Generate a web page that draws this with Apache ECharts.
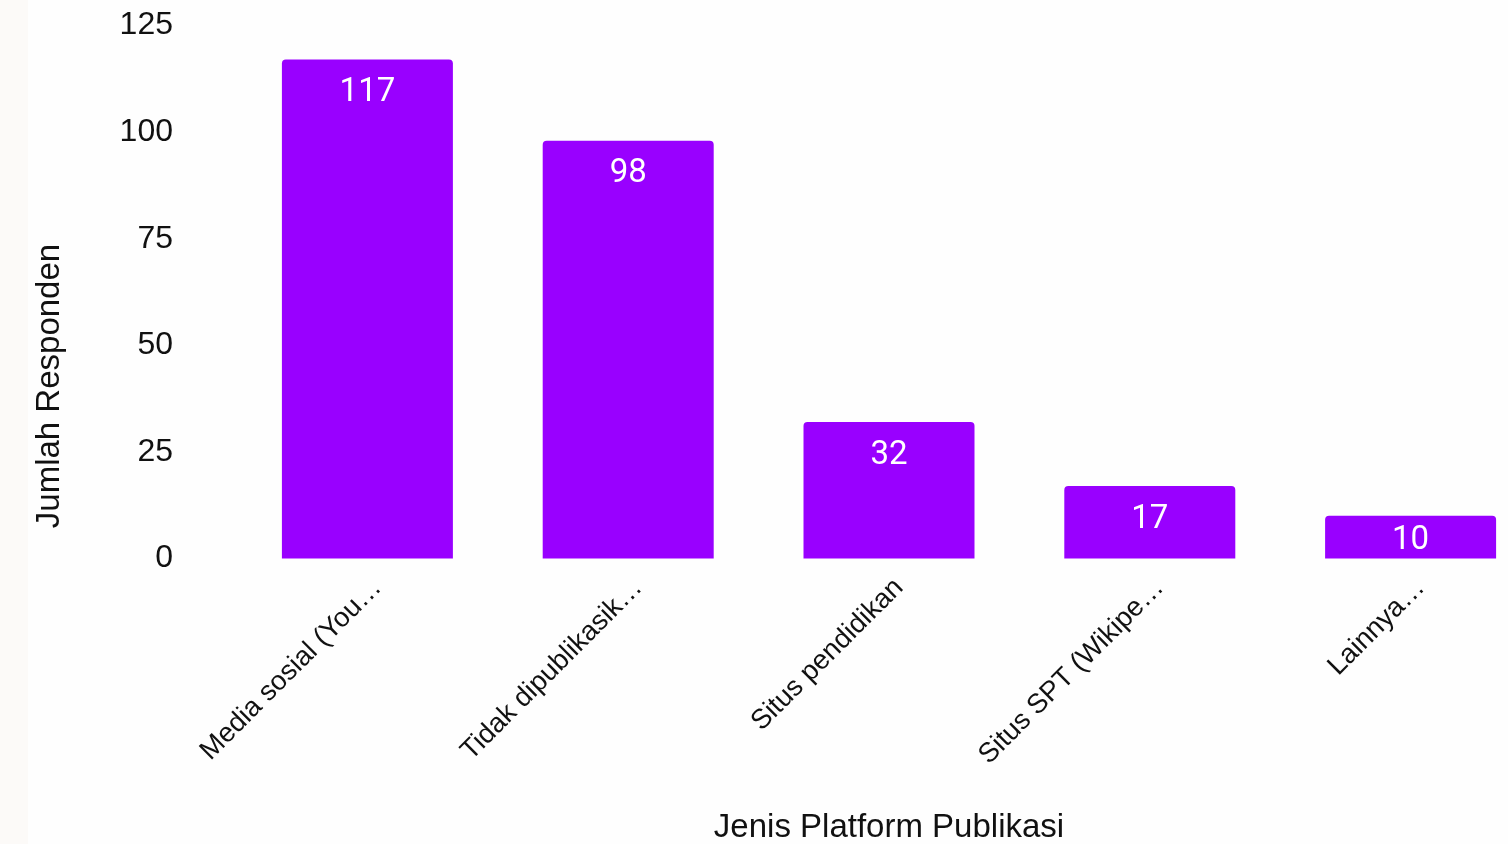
<!DOCTYPE html>
<html>
<head>
<meta charset="utf-8">
<script src="https://cdn.jsdelivr.net/npm/echarts@6/dist/echarts.min.js"></script>
<style>
  html, body { margin: 0; padding: 0; background: #fefefe; }
  #chart { width: 1508px; height: 844px; }
</style>
</head>
<body>
<div id="chart"></div>
<script>
// Platform categories (labels as truncated on the axis)
const categories = ['Media sosial (You…', 'Tidak dipublikasik…', 'Situs pendidikan', 'Situs SPT (Wikipe…', 'Lainnya…'];
// Number of respondents per platform
const respondents = [117, 98, 32, 17, 10];
// Value axis ticks
const yTicks = [0, 25, 50, 75, 100, 125];

const barColor = '#9900ff';
const textColor = '#111111';
const textFont = '"Liberation Sans", Arial, sans-serif';

// Short bars get their value label centred inside the bar
const barData = respondents.map(v => ({
  value: v,
  label: v < 15 ? { position: 'inside', offset: [0, 4] } : undefined
}));

const chart = echarts.init(document.getElementById('chart'), null, { renderer: 'canvas' });

chart.setOption({
  backgroundColor: '#fefefe',
  animation: false,
  graphic: [
    {
      type: 'rect',
      left: 0, top: 0, z: -10,
      shape: { width: 28, height: 844 },
      style: { fill: '#fcfaf8' }
    },
    {
      type: 'text',
      x: 50, y: 386,
      rotation: Math.PI / 2,
      style: {
        text: 'Jumlah Responden',
        font: '33px "Liberation Sans", Arial, sans-serif',
        fill: textColor,
        textAlign: 'center',
        textVerticalAlign: 'middle'
      }
    }
  ],
  grid: {
    left: 237,
    top: 25.5,
    width: 1304,
    height: 533,
    containLabel: false,
    outerBoundsMode: 'none'
  },
  xAxis: {
    type: 'category',
    data: categories,
    axisLine: { show: false },
    axisTick: { show: false },
    axisLabel: {
      rotate: 45,
      margin: 15,
      verticalAlign: 'top',
      interval: 0,
      fontFamily: textFont,
      fontSize: 27.5,
      color: textColor
    },
    name: 'Jenis Platform Publikasi',
    nameLocation: 'middle',
    nameGap: 253,
    nameTextStyle: {
      fontFamily: textFont,
      fontSize: 33,
      color: textColor
    }
  },
  yAxis: {
    type: 'value',
    min: yTicks[0],
    max: yTicks[yTicks.length - 1],
    interval: yTicks[1] - yTicks[0],
    axisLine: { show: false },
    axisTick: { show: false },
    splitLine: { show: false },
    axisLabel: {
      margin: 64,
      padding: [4, 0, 0, 0],
      fontFamily: textFont,
      fontSize: 32,
      color: textColor
    }
  },
  series: [{
    type: 'bar',
    data: barData,
    barWidth: 171,
    itemStyle: { color: barColor, borderRadius: [4, 4, 0, 0] },
    label: {
      show: true,
      position: 'insideTop',
      distance: 17,
      fontFamily: 'Roboto, sans-serif',
      fontSize: 33,
      color: '#ffffff'
    }
  }]
});
</script>
</body>
</html>
